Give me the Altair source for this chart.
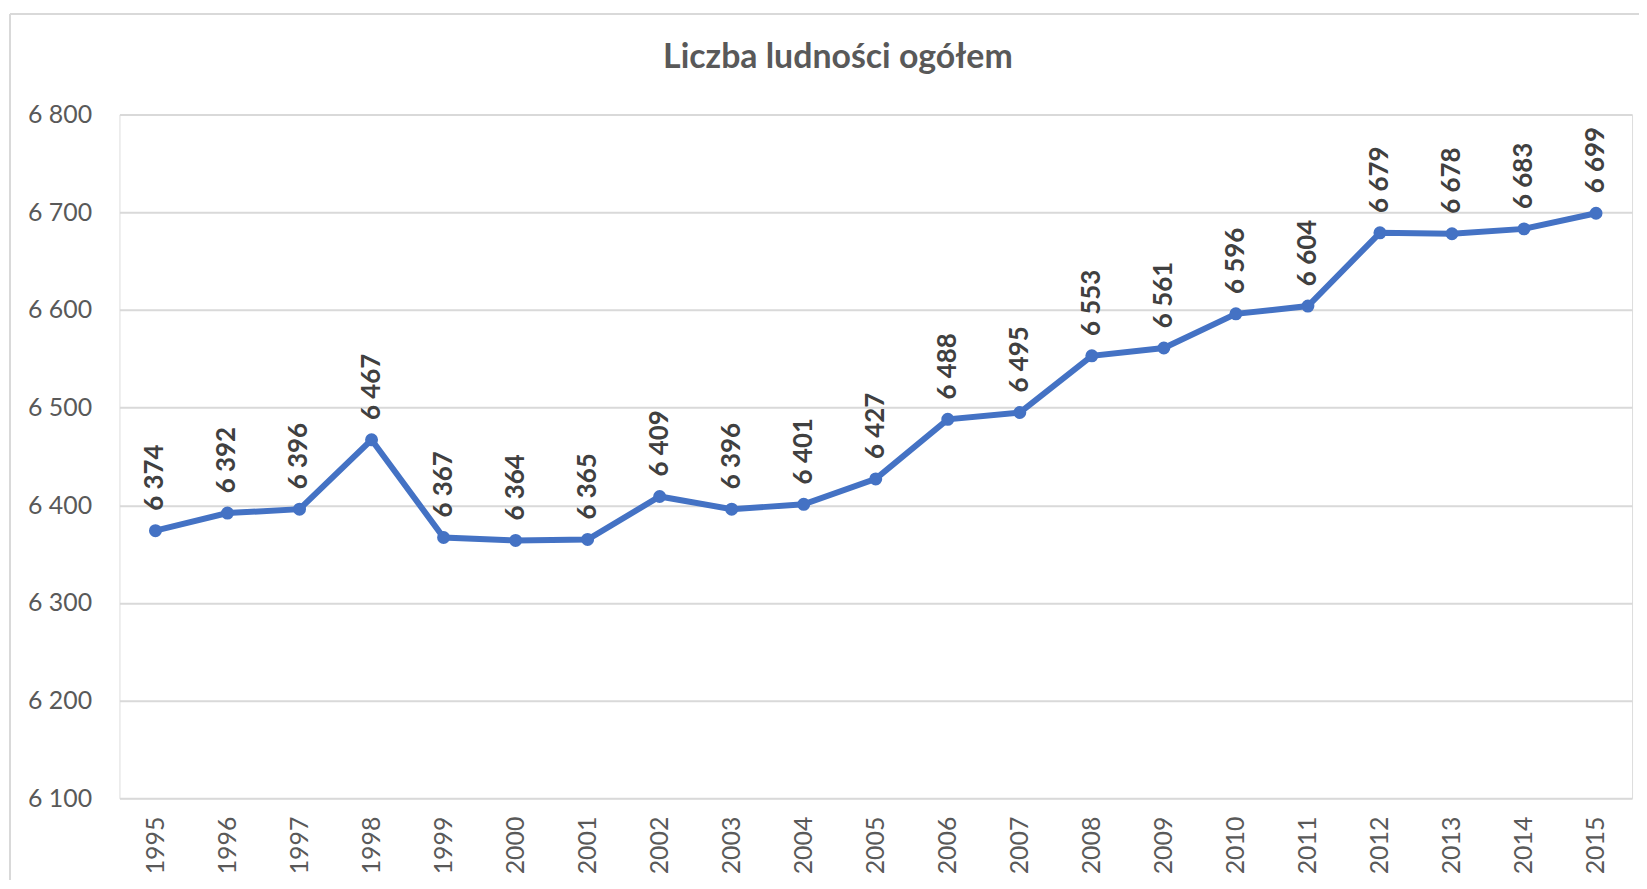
import altair as alt
import pandas as pd

years = [str(y) for y in range(1995, 2016)]
values = [6374, 6392, 6396, 6467, 6367, 6364, 6365, 6409, 6396, 6401, 6427,
          6488, 6495, 6553, 6561, 6596, 6604, 6679, 6678, 6683, 6699]
y_ticks = [6100, 6200, 6300, 6400, 6500, 6600, 6700, 6800]
title_text = ["Liczba ludności ogółem"]

df = pd.DataFrame({"rok": years, "ludnosc": values})

FONT = "Lato"
BLUE = "#4472C4"

x_enc = alt.X("rok:O", scale=alt.Scale(type="point", padding=0.5),
              axis=alt.Axis(title=None, labelAngle=270, labelFontSize=25,
                            labelColor="#595959", labelFont=FONT, ticks=False,
                            domain=False, grid=False, labelPadding=18))
y_enc = alt.Y("ludnosc:Q", scale=alt.Scale(domain=[6100, 6800], zero=False, nice=False),
              axis=alt.Axis(title=None, values=y_ticks, labelFontSize=25,
                            labelColor="#595959", labelFont=FONT, ticks=False,
                            domain=False, grid=True, gridColor="#d9d9d9",
                            gridWidth=2, labelPadding=28,
                            labelExpr="replace(format(datum.value, ','), ',', ' ')"))

base = alt.Chart(df)

line = base.mark_line(color=BLUE, strokeWidth=6).encode(x=x_enc, y=y_enc)
points = base.mark_point(filled=True, color=BLUE, size=170, opacity=1).encode(x=x_enc, y=y_enc)
labels = base.transform_calculate(
    lab="replace(format(datum.ludnosc, ','), ',', ' ')"
).mark_text(angle=270, align="left", baseline="middle", dx=20,
            font=FONT, fontSize=26, fontWeight="bold", color="#404040").encode(
    x=x_enc, y=y_enc, text="lab:N")

title = alt.Chart(pd.DataFrame({"t": title_text})).mark_text(
    font=FONT, fontSize=34, fontWeight="bold", color="#595959",
    align="center", baseline="middle").encode(
    x=alt.value(722), y=alt.value(-57), text="t:N")

border_top = base.mark_rule(color="#d9d9d9", strokeWidth=2).encode(
    x=alt.value(-110), x2=alt.value(1540), y=alt.value(-101))
border_left = base.mark_rule(color="#d9d9d9", strokeWidth=2).encode(
    x=alt.value(-110), y=alt.value(-101), y2=alt.value(800))

chart = alt.layer(border_top, border_left, line, points, labels, title).properties(
    width=1520, height=687,
    autosize=alt.AutoSizeParams(type="none"),
    padding={"left": 112, "top": 105, "right": 7, "bottom": 80},
).configure_view(stroke="transparent", strokeWidth=0).configure(background="white")

chart.save("out.html", embed_options={"renderer": "svg", "actions": False})
